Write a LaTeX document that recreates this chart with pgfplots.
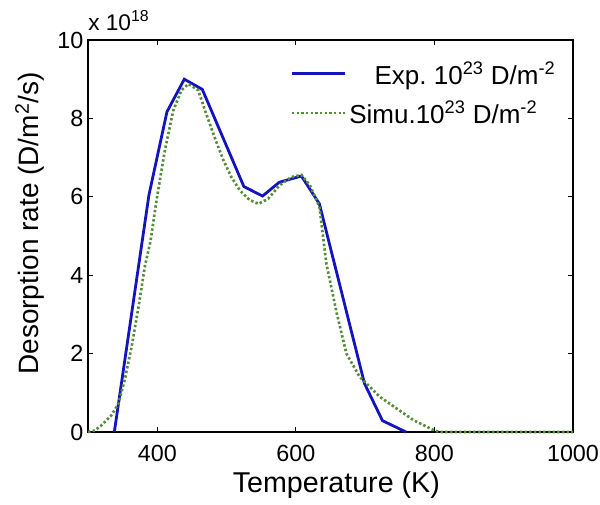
\documentclass[border=0pt]{standalone}
\usepackage{pgfplots}
\pgfplotsset{compat=1.18}
\usepackage{fontspec}
\setmainfont{Liberation Sans}
\definecolor{expblue}{RGB}{20,20,190}
\definecolor{simgreen}{RGB}{85,140,55}
\begin{document}
\begin{tikzpicture}
\begin{axis}[
  scale only axis,
  width=363.75pt, height=294pt,
  xmin=300, xmax=1000, ymin=0, ymax=10,
  xtick={400,600,800,1000},
  ytick={0,2,4,6,8,10},
  tick align=inside,
  major tick length=4pt,
  tick style={black, line width=0.6pt},
  axis line style={black, line width=0.8pt},
  /pgf/number format/assume math mode=true,
  /pgf/number format/1000 sep={},
  ticklabel style={font=\fontsize{17.5}{20}\selectfont},
  xticklabel style={yshift=-6pt},
  xlabel={Temperature (K)},
  ylabel={Desorption rate (D/m\textsuperscript{2}/s)},
  xlabel style={font=\fontsize{21.5}{25}\selectfont, at={(axis description cs:0.512,-0.1556)}, anchor=base},
  ylabel style={font=\fontsize{21}{25}\selectfont, at={(axis description cs:-0.1196,0.532)}, anchor=center},
  legend cell align=left,
  legend style={draw=none, fill=none, at={(rel axis cs:0.417,0.953)}, anchor=north west,
    font=\fontsize{19.5}{23}\selectfont, row sep=7pt, inner sep=0pt},
  legend image code/.code={\draw[#1] (0pt,0pt) -- (40pt,0pt);},
  clip=false,
]
\addplot[expblue, line width=2.1pt] coordinates {
(338,0) (388,6.05) (414,8.17) (439,9.0) (465,8.74) (525,6.26) (552,6.02)
(576,6.37) (608,6.53) (634,5.82) (699,1.24) (725,0.29) (759,0)
};
\addlegendentry{\hspace*{19pt}Exp.\ 10\textsuperscript{23} D/m\textsuperscript{-2}}
\addplot[simgreen, line width=2pt, dash pattern=on 1.8pt off 1.7pt] coordinates {
(300,0) (310,0.04) (320,0.18) (334,0.43) (344,0.73) (353,1.33) (363,2.18)
(373,3.2) (382,4.22) (390,4.85) (399,5.92) (411,7.19) (423,8.2) (435,8.72)
(445,8.88) (459,8.72) (469,8.2) (482,7.55) (495,6.95) (507,6.5) (519,6.17)
(533,5.92) (546,5.82) (560,5.95) (577,6.3) (593,6.5) (608,6.56) (620,6.3)
(634,5.75) (644,4.3) (659,3.03) (673,2.0) (692,1.41) (721,0.9) (770,0.3)
(801,0.03) (810,0) (1000,0)
};
\addlegendentry{Simu.10\textsuperscript{23} D/m\textsuperscript{-2}}
\node[anchor=base west, inner sep=0pt, font=\fontsize{17}{20}\selectfont] at (rel axis cs:0,1) [yshift=7.5pt] {x 10\textsuperscript{18}};
\end{axis}
\pgfresetboundingbox
\path[use as bounding box] (-66pt,-54pt) rectangle (384pt,324pt);
\end{tikzpicture}
\end{document}
